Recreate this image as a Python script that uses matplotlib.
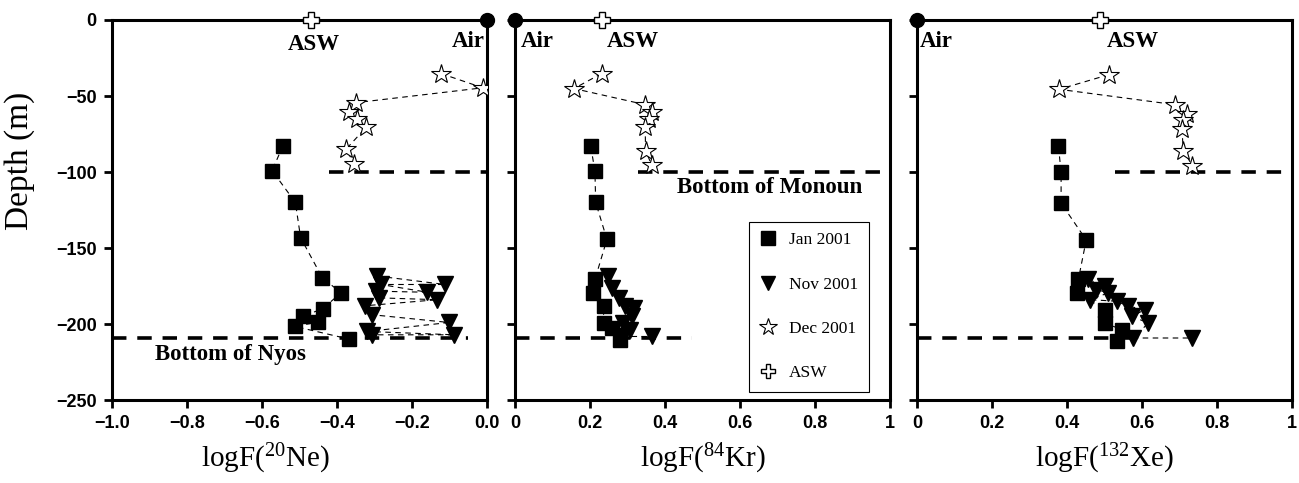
import matplotlib
matplotlib.use('Agg')
import matplotlib.pyplot as plt
from matplotlib.lines import Line2D

plt.rcParams['font.family'] = ['Liberation Sans', 'DejaVu Sans']
plt.rcParams['mathtext.fontset'] = 'custom'
plt.rcParams['mathtext.rm'] = 'Liberation Serif'
plt.rcParams['mathtext.default'] = 'regular'

# ---- Ne ----
ne_jan_x = [-0.544, -0.573, -0.511, -0.497, -0.439, -0.389, -0.438, -0.490, -0.450, -0.512, -0.368]
ne_jan_y = [-82.6, -99.1, -120.0, -143.2, -169.6, -179.5, -189.8, -195.0, -198.7, -201.6, -209.9]
ne_nov_x = [-0.294, -0.112, -0.283, -0.159, -0.297, -0.288, -0.132, -0.326, -0.306, -0.101, -0.319, -0.087, -0.307]
ne_nov_y = [-168.4, -174.0, -174.0, -179.1, -178.4, -182.8, -184.0, -188.0, -193.9, -199.0, -204.9, -207.1, -207.1]
ne_dec_x = [-0.123, -0.011, -0.350, -0.368, -0.346, -0.322, -0.375, -0.355]
ne_dec_y = [-35.2, -44.6, -54.4, -60.5, -65.0, -70.5, -84.8, -94.7]

# ---- Kr ----
kr_jan_x = [0.202, 0.213, 0.215, 0.245, 0.213, 0.209, 0.236, 0.236, 0.258, 0.280]
kr_jan_y = [-83.2, -99.5, -120.0, -144.3, -170.7, -179.5, -188.3, -199.3, -202.6, -210.4]
kr_nov_x = [0.249, 0.258, 0.276, 0.293, 0.316, 0.311, 0.289, 0.307, 0.289, 0.364]
kr_nov_y = [-168.5, -176.2, -182.8, -188.3, -189.4, -195.0, -199.3, -203.8, -208.2, -208.2]
kr_dec_x = [0.231, 0.157, 0.347, 0.364, 0.356, 0.347, 0.348, 0.364]
kr_dec_y = [-35.2, -45.1, -55.7, -60.5, -65.0, -70.5, -85.9, -95.2]

# ---- Xe ----
xe_jan_x = [0.377, 0.384, 0.384, 0.451, 0.430, 0.426, 0.501, 0.501, 0.546, 0.532]
xe_jan_y = [-83.2, -100.2, -120.5, -144.7, -170.7, -179.5, -190.5, -199.3, -203.8, -211.5]
xe_nov_x = [0.457, 0.501, 0.478, 0.510, 0.461, 0.532, 0.563, 0.608, 0.572, 0.617, 0.576, 0.732]
xe_nov_y = [-170.7, -175.1, -177.3, -179.5, -184.0, -185.0, -188.3, -190.5, -195.0, -199.3, -209.2, -209.2]
xe_dec_x = [0.512, 0.379, 0.688, 0.721, 0.710, 0.706, 0.710, 0.734]
xe_dec_y = [-35.9, -45.6, -55.7, -61.7, -66.0, -71.6, -85.9, -95.8]

# air and air-saturated water end members
asw_x = [-0.47, 0.231, 0.488]
air_x = [0.0, 0.0, 0.0]

monoun_depth = -100
nyos_depth = -209
monoun_start = [-0.42, 0.328, 0.528]
nyos_end = [-0.05, 0.471, 0.568]

xlabels = [r'logF($^{20}$Ne)', r'logF($^{84}$Kr)', r'logF($^{132}$Xe)']
xlabel_pos = [0.41, 0.5, 0.5]
serif = 'Liberation Serif'

fig = plt.figure(figsize=(12.99, 4.83), dpi=100)
lefts = [0.0862, 0.3965, 0.706]
axes = [fig.add_axes([l, 0.1718, 0.2887, 0.7868]) for l in lefts]

data = [
    (ne_jan_x, ne_jan_y, ne_nov_x, ne_nov_y, ne_dec_x, ne_dec_y),
    (kr_jan_x, kr_jan_y, kr_nov_x, kr_nov_y, kr_dec_x, kr_dec_y),
    (xe_jan_x, xe_jan_y, xe_nov_x, xe_nov_y, xe_dec_x, xe_dec_y),
]

thin = dict(color='k', lw=0.8, ls=(0, (5, 4)))
for i, ax in enumerate(axes):
    jx, jy, nx, ny, dx, dy = data[i]
    if i == 0:
        xmin, xmax = -1.0, 0.0
    else:
        xmin, xmax = 0.0, 1.0
    ax.set_xlim(xmin, xmax)
    ax.set_ylim(-250, 0)

    # lake bottom reference lines
    ax.plot([monoun_start[i], xmax], [monoun_depth, monoun_depth], color='k', lw=2.6, ls=(0, (4, 3)), zorder=2)
    ax.plot([xmin, nyos_end[i]], [nyos_depth, nyos_depth], color='k', lw=2.6, ls=(0, (4, 3)), zorder=2)

    ax.plot(jx, jy, marker='s', ms=10, mfc='k', mec='k', zorder=3, **thin)
    ax.plot(nx, ny, marker='v', ms=11, mfc='k', mec='k', zorder=3, **thin)
    ax.plot(dx, dy, marker='*', ms=15, mfc='white', mec='k', mew=0.8, zorder=4, **thin)

    ax.plot(asw_x[i], 0, marker='P', ms=11, mfc='white', mec='k', mew=1.0, clip_on=False, zorder=6)
    ax.plot(air_x[i], 0, marker='o', ms=10, mfc='k', mec='k', clip_on=False, zorder=6)

    for s in ax.spines.values():
        s.set_linewidth(2.2)
    ax.set_yticks([-250, -200, -150, -100, -50, 0])
    ax.tick_params(axis='both', direction='out', length=6, width=2, labelsize=13, pad=5)
    ax.set_xticks([xmin + k * 0.2 for k in range(6)])
    ax.set_xlabel(xlabels[i], family=serif, fontsize=21)
    ax.xaxis.set_label_coords(xlabel_pos[i], -0.11)

axes[0].set_xticklabels(['\u22121.0', '\u22120.8', '\u22120.6', '\u22120.4', '\u22120.2', '0.0'], fontweight='bold')
axes[0].set_yticklabels(['\u2212250', '\u2212200', '\u2212150', '\u2212100', '\u221250', '0'], fontweight='bold')
axes[0].set_ylabel('Depth (m)', family=serif, fontsize=24)
axes[0].yaxis.set_label_coords(-0.205, 0.63)
for ax in axes[1:]:
    ax.set_xticklabels(['0', '0.2', '0.4', '0.6', '0.8', '1'], fontweight='bold')
    ax.set_yticklabels([])

lbl = dict(family=serif, fontweight='bold', fontsize=16.5, ha='center', va='center')
axes[0].text(-0.463, -16, 'ASW', **lbl)
axes[0].text(-0.05, -14, 'Air', **lbl)
axes[0].text(-0.684, -220, 'Bottom of Nyos', **lbl)
axes[1].text(0.058, -14, 'Air', **lbl)
axes[1].text(0.315, -14, 'ASW', **lbl)
axes[1].text(0.68, -110, 'Bottom of Monoun', **lbl)
axes[2].text(0.052, -14, 'Air', **lbl)
axes[2].text(0.576, -14, 'ASW', **lbl)

handles = [
    Line2D([], [], ls='none', marker='s', ms=10, mfc='k', mec='k'),
    Line2D([], [], ls='none', marker='v', ms=10, mfc='k', mec='k'),
    Line2D([], [], ls='none', marker='*', ms=13, mfc='white', mec='k', mew=0.8),
    Line2D([], [], ls='none', marker='P', ms=10, mfc='white', mec='k', mew=1.0),
]
leg = axes[1].legend(handles, ['Jan 2001', 'Nov 2001', 'Dec 2001', 'ASW'],
                     loc='lower left', bbox_to_anchor=(0.624, 0.022),
                     prop={'family': serif, 'size': 12.5}, labelspacing=1.62,
                     borderpad=0.6, handletextpad=0.7, handlelength=1.0,
                     fancybox=False, edgecolor='k', framealpha=1, borderaxespad=0)
leg.get_frame().set_linewidth(0.8)

fig.savefig('out.png', dpi=100)
